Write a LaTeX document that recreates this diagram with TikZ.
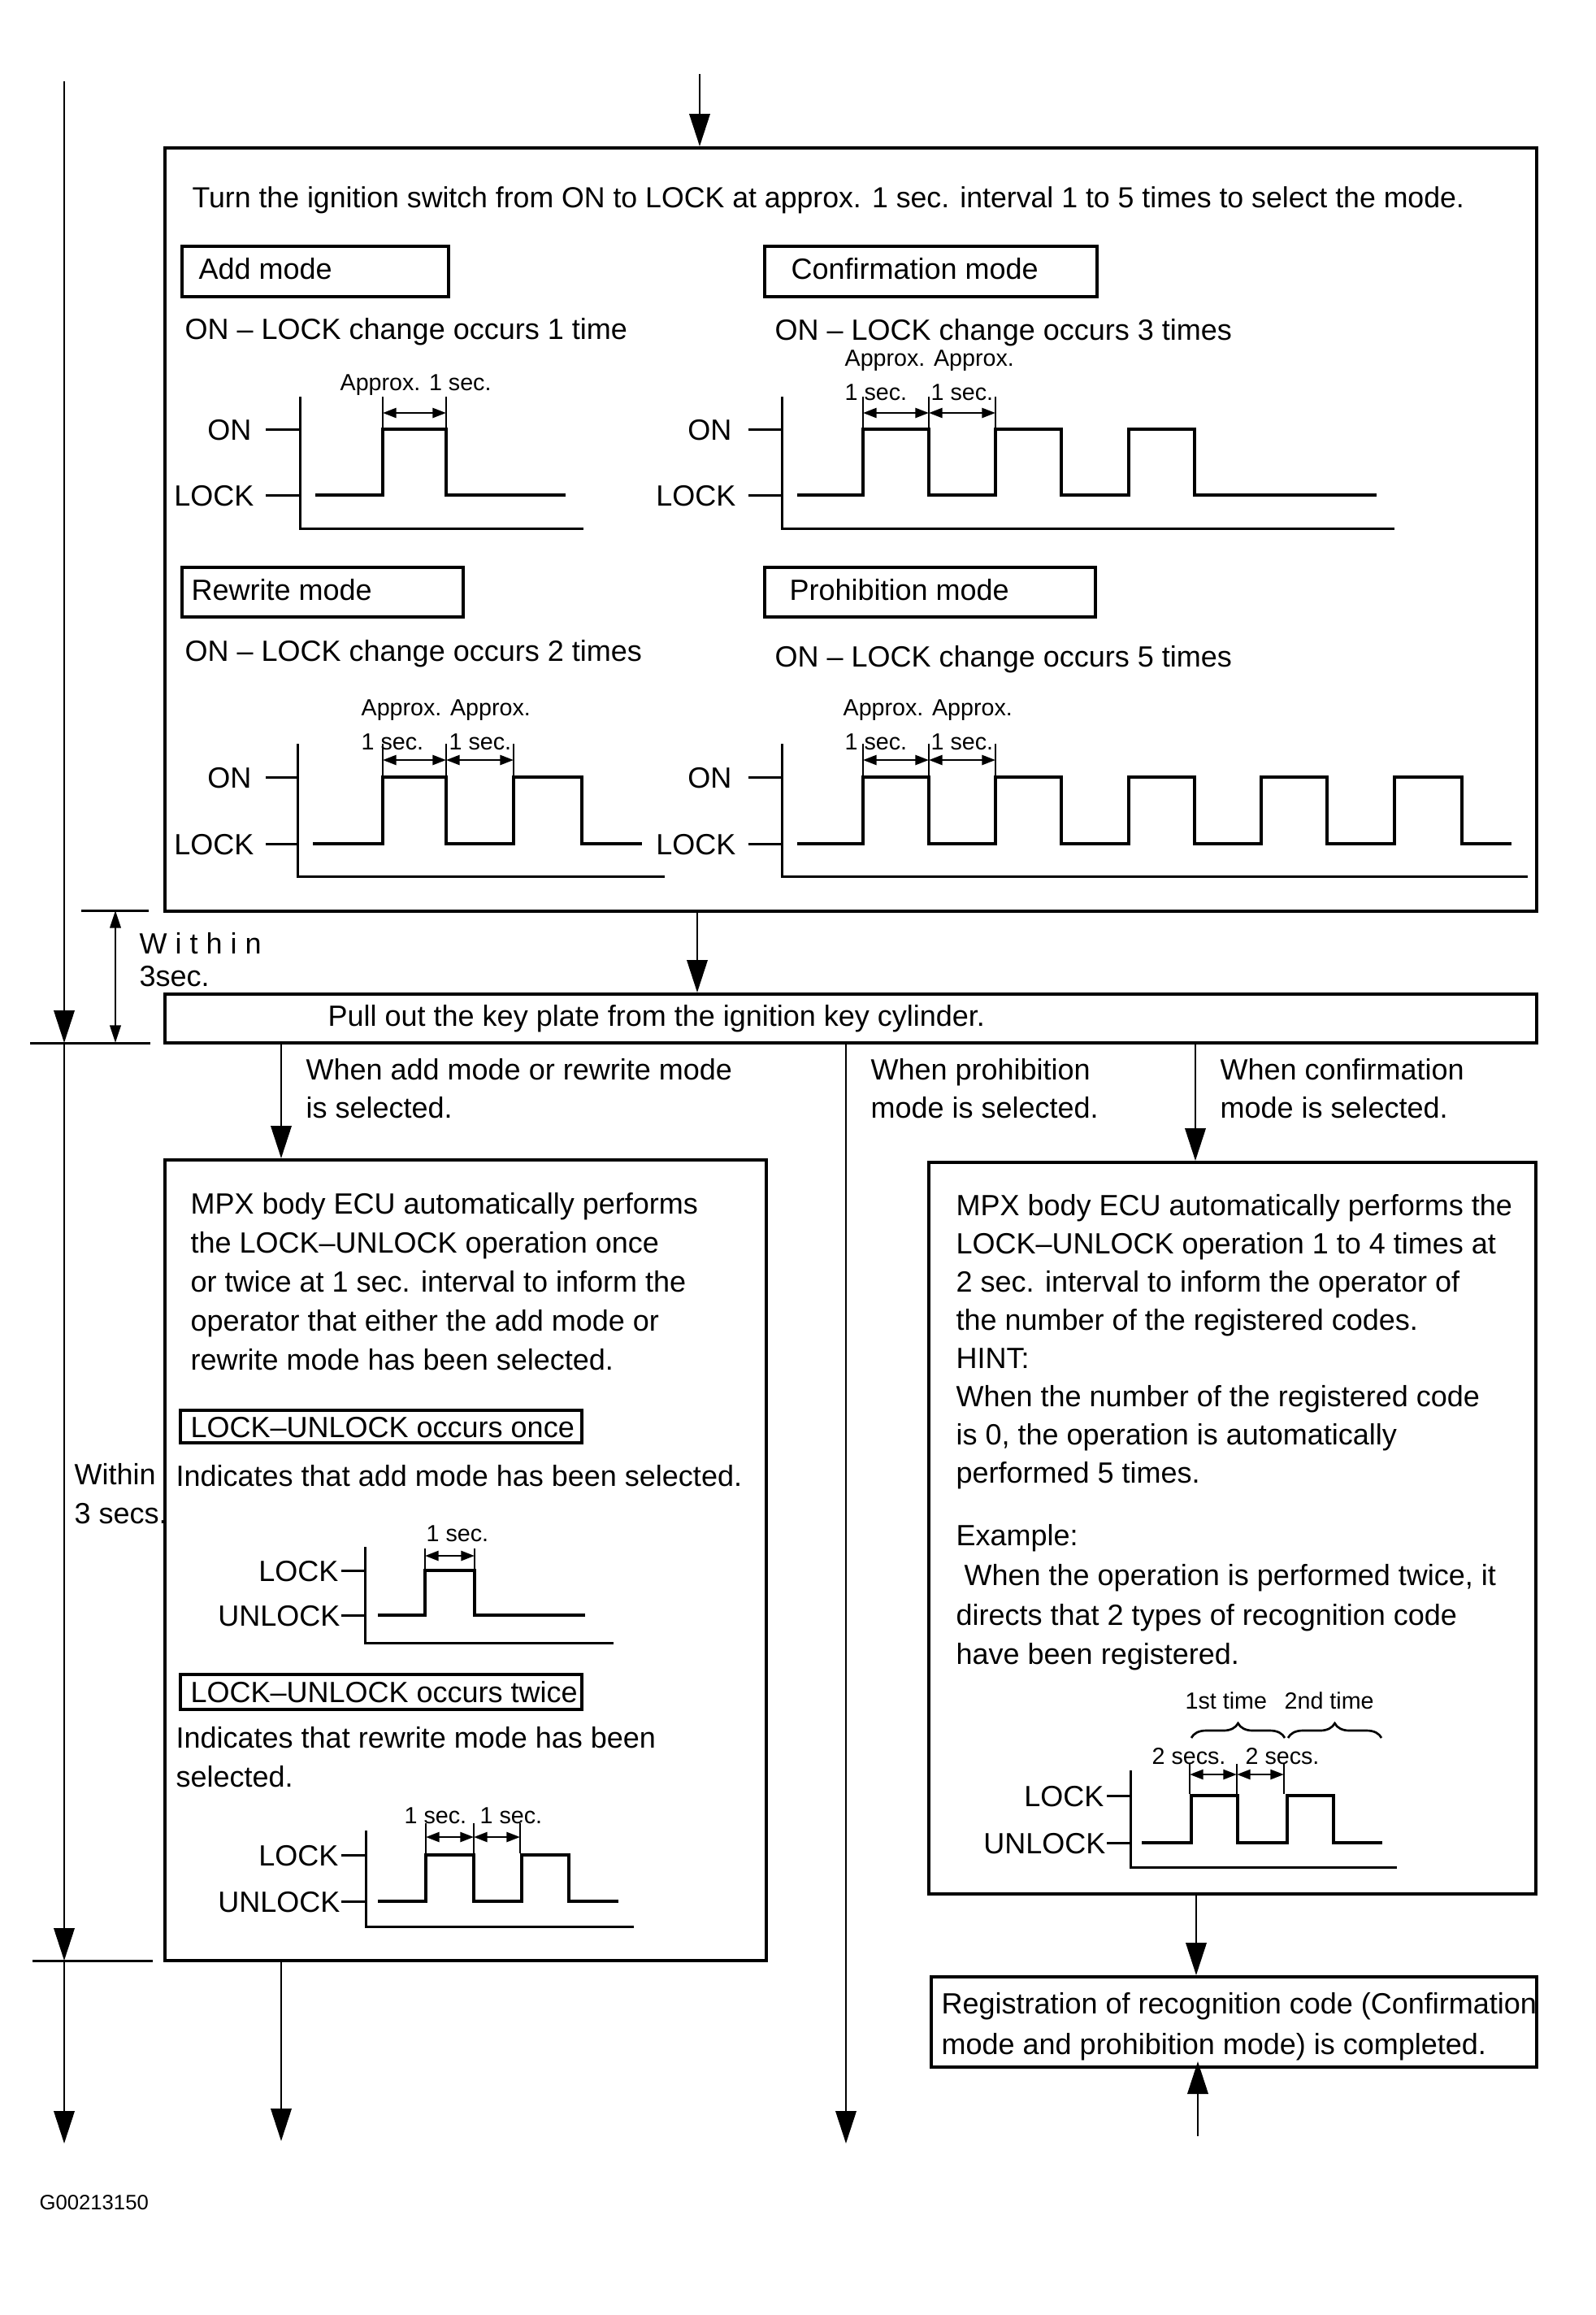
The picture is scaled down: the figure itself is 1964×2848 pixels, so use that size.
\documentclass[tikz,border=0pt]{standalone}
\usepackage{fontspec}
\setmainfont{Liberation Sans}
\usetikzlibrary{arrows.meta,fit,decorations.pathreplacing}
\newcommand\mainsz{\fontsize{10.8}{13}\selectfont}
\newcommand\titlesz{\fontsize{10.7}{13}\selectfont}
\newcommand\smsz{\fontsize{8.6}{10}\selectfont}
\newcommand\tinysz{\fontsize{7.7}{9}\selectfont}
\newcommand\txtblock[5]{%
  \foreach \ln [count=\k from 0] in {#5} {\node[txt] (#1\k) at (#2,{#3+\k*#4}) {\ln};}}
\begin{document}
\begin{tikzpicture}[x=0.3pt,y=-0.3pt,
  boxst/.style={draw, line width=1.2pt, inner sep=0pt},
  modebox/.style={draw, line width=1.1pt, inner sep=0pt},
  txt/.style={anchor=base west, inner sep=0pt, font=\mainsz},
  txte/.style={anchor=base east, inner sep=0pt, font=\mainsz},
  sm/.style={anchor=base west, inner sep=0pt, font=\smsz},
  conn/.style={line width=0.8pt, -{Triangle[length=12pt,width=7.6pt]}},
  plain/.style={line width=0.9pt},
  wave/.style={line width=1pt},
  ax/.style={line width=0.9pt},
  mk/.style={line width=0.8pt},
  dimarr/.style={line width=0.8pt, {Triangle[length=5pt,width=3.6pt]}-{Triangle[length=5pt,width=3.6pt]}},
  wdim/.style={line width=0.8pt, {Triangle[length=6.5pt,width=4pt]}-{Triangle[length=6.5pt,width=4pt]}},
  brc/.style={line width=0.8pt, decorate, decoration={brace, amplitude=5.4pt}}
]
\useasboundingbox (0,0) rectangle (1964,2848);

% ---------------- top box ----------------
\coordinate (topin) at (861,91);
\node[boxst, fit={(203,182)(1891,1121)}] (topbox) {};
\draw[conn] (topin) -- (topin |- topbox.north);
\node[txt, font=\titlesz] (title) at (236,255) {Turn the ignition switch from ON to LOCK at approx. 1 sec. interval 1 to 5 times to select the mode.};

\node[modebox, fit={(224,303)(552,365)}] (addbox) {};
\node[txt] (addtxt) at (244,343) {Add mode};
\node[modebox, fit={(941,303)(1350,365)}] (confbox) {};
\node[txt] (conftxt) at (973,343) {Confirmation mode};
\node[txt] (addchg) at (227,417) {ON – LOCK change occurs 1 time};
\node[txt] (confchg) at (953,418) {ON – LOCK change occurs 3 times};

% add mode diagram
\node[sm] (addap) at (418,480) {Approx. 1 sec.};
\draw[ax] (369,488) -- (369,650) -- (718,650);
\draw[ax] (327,528) -- (369,528);
\draw[ax] (327,609) -- (369,609);
\node[txte] (addon) at (310,541) {ON};
\node[txte] (addlock) at (313,622) {LOCK};
\draw[wave] (388,609) -- (471,609) -- (471,528) -- (549,528) -- (549,609) -- (696,609);
\draw[mk] (471,488) -- (471,528);
\draw[mk] (549,488) -- (549,528);
\draw[dimarr] (471,508) -- (549,508);

% confirmation diagram
\node[sm] (confap) at (1039,450) {Approx. Approx.};
\node[sm] (confs1) at (1039,492) {1 sec.};
\node[sm] (confs2) at (1145,492) {1 sec.};
\draw[ax] (962,488) -- (962,650) -- (1716,650);
\draw[ax] (921,528) -- (962,528);
\draw[ax] (921,609) -- (962,609);
\node[txte] (confon) at (901,541) {ON};
\node[txte] (conflock) at (906,622) {LOCK};
\draw[wave] (981,609) -- (1062,609) -- (1062,528) -- (1143,528) -- (1143,609) -- (1225,609) -- (1225,528) -- (1306,528) -- (1306,609) -- (1389,609) -- (1389,528) -- (1470,528) -- (1470,609) -- (1694,609);
\foreach \xx in {1062,1143,1225} {\draw[mk] (\xx,488) -- (\xx,528);}
\draw[dimarr] (1062,508) -- (1143,508);
\draw[dimarr] (1143,508) -- (1225,508);

\node[modebox, fit={(224,698)(570,759)}] (rwbox) {};
\node[txt] (rwtxt) at (235,738) {Rewrite mode};
\node[modebox, fit={(941,698)(1348,759)}] (prbox) {};
\node[txt] (prtxt) at (971,738) {Prohibition mode};
\node[txt] (rwchg) at (227,813) {ON – LOCK change occurs 2 times};
\node[txt] (prchg) at (953,820) {ON – LOCK change occurs 5 times};

% rewrite diagram
\node[sm] (rwap) at (444,880) {Approx. Approx.};
\node[sm] (rws1) at (444,922) {1 sec.};
\node[sm] (rws2) at (552,922) {1 sec.};
\draw[ax] (366,915) -- (366,1078) -- (818,1078);
\draw[ax] (327,956) -- (366,956);
\draw[ax] (327,1038) -- (366,1038);
\node[txte] (rwon) at (310,969) {ON};
\node[txte] (rwlock) at (313,1051) {LOCK};
\draw[wave] (385,1038) -- (471,1038) -- (471,956) -- (549,956) -- (549,1038) -- (632,1038) -- (632,956) -- (716,956) -- (716,1038) -- (790,1038);
\foreach \xx in {471,549,632} {\draw[mk] (\xx,915) -- (\xx,956);}
\draw[dimarr] (471,935) -- (549,935);
\draw[dimarr] (549,935) -- (632,935);

% prohibition diagram
\node[sm] (prap) at (1037,880) {Approx. Approx.};
\node[sm] (prs1) at (1039,922) {1 sec.};
\node[sm] (prs2) at (1145,922) {1 sec.};
\draw[ax] (962,915) -- (962,1078) -- (1880,1078);
\draw[ax] (921,956) -- (962,956);
\draw[ax] (921,1038) -- (962,1038);
\node[txte] (pron) at (901,969) {ON};
\node[txte] (prlock) at (906,1051) {LOCK};
\draw[wave] (981,1038) -- (1062,1038) -- (1062,956) -- (1143,956) -- (1143,1038) -- (1225,1038) -- (1225,956) -- (1306,956) -- (1306,1038) -- (1389,1038) -- (1389,956) -- (1470,956) -- (1470,1038) -- (1552,1038) -- (1552,956) -- (1633,956) -- (1633,1038) -- (1716,1038) -- (1716,956) -- (1799,956) -- (1799,1038) -- (1860,1038);
\foreach \xx in {1062,1143,1225} {\draw[mk] (\xx,915) -- (\xx,956);}
\draw[dimarr] (1062,935) -- (1143,935);
\draw[dimarr] (1143,935) -- (1225,935);

% ---------------- within 3 sec ----------------
\coordinate (W1a) at (100,1120); \coordinate (W1b) at (183,1120);
\coordinate (W2a) at (37,1283); \coordinate (W2b) at (185,1283);
\coordinate (W3a) at (40,2412); \coordinate (W3b) at (188,2412);
\draw[plain] (W1a) -- (W1b);
\draw[plain] (W2a) -- (W2b);
\draw[plain] (W3a) -- (W3b);
\coordinate (Wd1) at (142,1120); \coordinate (Wd2) at (142,1283);
\draw[wdim] (Wd1) -- (Wd2);
\node[txt] (within1) at (171,1173) {W i t h i n};
\node[txt] (within2) at (171,1213) {3sec.};
\node[txt] (within3) at (91,1826) {Within};
\node[txt] (within4) at (91,1874) {3 secs.};

\coordinate (L0) at (79,100); \coordinate (L1) at (79,1283);
\coordinate (L2) at (79,2412); \coordinate (L3) at (79,2637);
\draw[conn] (L0) -- (L1);
\draw[conn] (L1) -- (L2);
\draw[conn] (L2) -- (L3);

% ---------------- pull out ----------------
\node[boxst, fit={(203,1223)(1891,1283)}] (pullbox) {};
\node[txt] (pulltxt) at (403,1262) {Pull out the key plate from the ignition key cylinder.};
\coordinate (pc) at (858,1120);
\draw[conn] (pc |- topbox.south) -- (pc |- pullbox.north);

\node[txt] (la1) at (376,1328) {When add mode or rewrite mode};
\node[txt] (la2) at (376,1375) {is selected.};
\node[txt] (lb1) at (1071,1328) {When prohibition};
\node[txt] (lb2) at (1071,1375) {mode is selected.};
\node[txt] (lc1) at (1501,1328) {When confirmation};
\node[txt] (lc2) at (1501,1375) {mode is selected.};

% ---------------- left lower box ----------------
\node[boxst, fit={(203,1427)(943,2412)}] (leftbox) {};
\coordinate (bl) at (346,1283);
\draw[conn] (bl |- pullbox.south) -- (bl |- leftbox.north);
\coordinate (blend) at (346,2634);
\draw[conn] (bl |- leftbox.south) -- (blend);

\txtblock{lt}{234}{1493}{48}{MPX body ECU automatically performs, the LOCK–UNLOCK operation once, or twice at 1 sec. interval to inform the, operator that either the add mode or, rewrite mode has been selected.}

\node[modebox, line width=1pt, fit={(222,1735)(716,1775)}] (oncebox) {};
\node[txt] (oncetxt) at (234,1768) {LOCK–UNLOCK occurs once};
\node[txt] (ind1) at (216,1828) {Indicates that add mode has been selected.};

\node[sm] (l1s) at (524,1896) {1 sec.};
\draw[ax] (449,1903) -- (449,2021) -- (755,2021);
\draw[ax] (420,1932) -- (449,1932);
\draw[ax] (420,1987) -- (449,1987);
\node[txte] (l1lock) at (417,1945) {LOCK};
\node[txte] (l1unl) at (419,2000) {UNLOCK};
\draw[wave] (465,1987) -- (523,1987) -- (523,1932) -- (584,1932) -- (584,1987) -- (720,1987);
\foreach \xx in {523,584} {\draw[mk] (\xx,1905) -- (\xx,1932);}
\draw[dimarr] (523,1914) -- (584,1914);

\node[modebox, line width=1pt, fit={(222,2060)(716,2103)}] (twicebox) {};
\node[txt] (twicetxt) at (234,2094) {LOCK–UNLOCK occurs twice};
\node[txt] (ind2) at (216,2150) {Indicates that rewrite mode has been};
\node[txt] (ind3) at (216,2198) {selected.};

\node[sm] (l2s1) at (497,2243) {1 sec.};
\node[sm] (l2s2) at (590,2243) {1 sec.};
\draw[ax] (450,2252) -- (450,2370) -- (780,2370);
\draw[ax] (420,2282) -- (450,2282);
\draw[ax] (420,2339) -- (450,2339);
\node[txte] (l2lock) at (417,2295) {LOCK};
\node[txte] (l2unl) at (419,2352) {UNLOCK};
\draw[wave] (465,2339) -- (524,2339) -- (524,2282) -- (583,2282) -- (583,2339) -- (642,2339) -- (642,2282) -- (700,2282) -- (700,2339) -- (761,2339);
\foreach \xx in {524,583,640} {\draw[mk] (\xx,2243) -- (\xx,2280);}
\draw[dimarr] (524,2260) -- (583,2260);
\draw[dimarr] (583,2260) -- (640,2260);

% ---------------- middle ----------------
\coordinate (bm) at (1041,1283);
\coordinate (bmend) at (1041,2637);
\draw[conn] (bm |- pullbox.south) -- (bmend);

% ---------------- right lower box ----------------
\node[boxst, fit={(1143,1430)(1890,2330)}] (rightbox) {};
\coordinate (br) at (1471,1283);
\draw[conn] (br |- pullbox.south) -- (br |- rightbox.north);

\txtblock{rt}{1176}{1495}{47}{MPX body ECU automatically performs the, LOCK–UNLOCK operation 1 to 4 times at, 2 sec. interval to inform the operator of, the number of the registered codes., HINT:, When the number of the registered code, {is 0, the operation is automatically}, performed 5 times.}
\node[txt] (ex0) at (1176,1901) {Example:};
\node[txt] (ex1) at (1186,1950) {When the operation is performed twice, it};
\node[txt] (ex2) at (1176,1999) {directs that 2 types of recognition code};
\node[txt] (ex3) at (1176,2047) {have been registered.};

\node[sm] (t1) at (1458,2102) {1st time};
\node[sm] (t2) at (1580,2102) {2nd time};
\draw[brc] (1466,2138) -- (1581,2138);
\draw[brc] (1585,2138) -- (1700,2138);
\node[sm] (s2a) at (1417,2170) {2 secs.};
\node[sm] (s2b) at (1532,2170) {2 secs.};
\draw[ax] (1391,2178) -- (1391,2297) -- (1719,2297);
\draw[ax] (1362,2209) -- (1391,2209);
\draw[ax] (1362,2267) -- (1391,2267);
\node[txte] (rlock) at (1359,2222) {LOCK};
\node[txte] (runl) at (1361,2280) {UNLOCK};
\draw[wave] (1405,2267) -- (1466,2267) -- (1466,2209) -- (1523,2209) -- (1523,2267) -- (1584,2267) -- (1584,2209) -- (1641,2209) -- (1641,2267) -- (1701,2267);
\foreach \xx in {1464,1522,1580} {\draw[mk] (\xx,2170) -- (\xx,2207);}
\draw[dimarr] (1464,2183) -- (1522,2183);
\draw[dimarr] (1522,2183) -- (1580,2183);

% ---------------- registration box ----------------
\node[boxst, fit={(1146,2432)(1891,2543)}] (regbox) {};
\coordinate (rc) at (1472,2330);
\draw[conn] (rc |- rightbox.south) -- (rc |- regbox.north);
\node[txt] (reg1) at (1158,2477) {Registration of recognition code (Confirmation};
\node[txt] (reg2) at (1158,2527) {mode and prohibition mode) is completed.};
\coordinate (upst) at (1474,2628);
\coordinate (uptip) at (1474,2536);
\draw[conn] (upst) -- (uptip);

\node[anchor=base west, inner sep=0pt, font=\tinysz] (code) at (48,2718) {G00213150};
\end{tikzpicture}
\end{document}
